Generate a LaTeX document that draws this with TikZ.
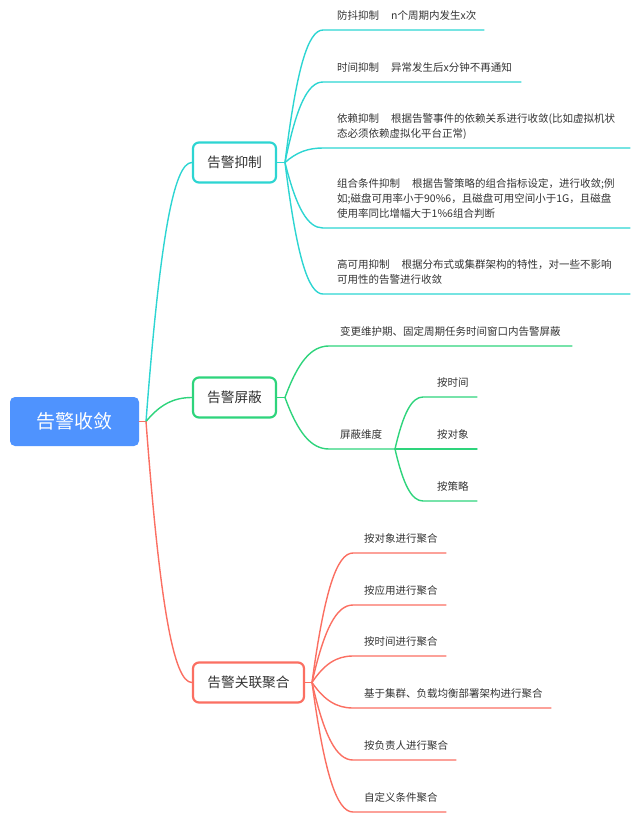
\documentclass[tikz,border=0pt]{standalone}
\usepackage{fontspec}
\setmainfont{Noto Sans CJK SC}
\usetikzlibrary{calc}
\definecolor{tealc}{HTML}{2DD5D2}
\definecolor{greenc}{HTML}{2ED47C}
\definecolor{redc}{HTML}{FB6F62}
\definecolor{bluec}{HTML}{4F93FE}
\definecolor{txtc}{HTML}{333333}
\newcommand{\mlines}[1]{\begin{tabular}[b]{@{}l@{}}#1\end{tabular}}
\begin{document}
\begin{tikzpicture}[x=1pt,y=-1pt,
  leaf/.style={anchor=base west, inner sep=0pt, font=\fontsize{10.5}{15}\selectfont, text=txtc},
  topic/.style={draw, line width=2.2pt, rounded corners=6pt, fill=white, minimum height=40pt, inner sep=0pt, font=\fontsize{13.7}{16}\selectfont, text=txtc},
  conn/.style={line width=1.4pt, line cap=round},
  mm/.style={to path={let \p1=(\tikztostart), \p2=(\tikztotarget) in .. controls ({\x1+0.3*(\x2-\x1)},{\y2+0.3*(\y1-\y2)}) and ({\x1+0.6*(\x2-\x1)},\y2) .. (\tikztotarget)}}
]
\useasboundingbox (0,0) rectangle (638,827);

% ---------- nodes ----------
\node[fill=bluec, rounded corners=5pt, minimum width=129pt, minimum height=49pt, inner sep=0pt, text=white, font=\fontsize{19}{22}\selectfont] (root) at (74.5,421.5) {告警收敛};
\node[topic, draw=tealc, minimum width=83pt] (b1) at (234.5,162.5) {告警抑制};
\node[topic, draw=greenc, minimum width=83pt] (b2) at (234.5,397.5) {告警屏蔽};
\node[topic, draw=redc, minimum width=111pt] (b3) at (248.5,682.5) {告警关联聚合};

% ---------- coordinates ----------
\coordinate (r0) at (146,421.5);
\coordinate (s1) at (285,162.5);
\coordinate (s2) at (285,397.5);
\coordinate (s3) at (312,682.5);

\coordinate (t1s) at (323,30);  \coordinate (t1e) at (484,30);
\coordinate (t2s) at (323,82);  \coordinate (t2e) at (521,82);
\coordinate (t3s) at (323,148); \coordinate (t3e) at (630,148);
\coordinate (t4s) at (323,228); \coordinate (t4e) at (630,228);
\coordinate (t5s) at (323,294); \coordinate (t5e) at (630,294);

\coordinate (g1s) at (329,346); \coordinate (g1e) at (572,346);
\coordinate (g2s) at (329,449); \coordinate (gj) at (395,449);
\coordinate (g21s) at (423,397); \coordinate (g21e) at (477,397);
\coordinate (g22e) at (477,449);
\coordinate (g23s) at (423,501); \coordinate (g23e) at (477,501);

\coordinate (r1s) at (353,553); \coordinate (r1e) at (446,553);
\coordinate (r2s) at (353,605); \coordinate (r2e) at (446,605);
\coordinate (r3s) at (353,656); \coordinate (r3e) at (446,656);
\coordinate (r4s) at (353,708); \coordinate (r4e) at (551,708);
\coordinate (r5s) at (353,760); \coordinate (r5e) at (456,760);
\coordinate (r6s) at (353,812); \coordinate (r6e) at (446,812);

% ---------- leaf texts ----------
\node[leaf] (t1) at (337,19.5) {防抖抑制\hspace{12pt}n个周期内发生x次};
\node[leaf] (t2) at (337,71.5) {时间抑制\hspace{12pt}异常发生后x分钟不再通知};
\node[leaf] (t3) at (337,137.5) {\mlines{依赖抑制\hspace{12pt}根据告警事件的依赖关系进行收敛(比如虚拟机状\\态必须依赖虚拟化平台正常)}};
\node[leaf] (t4) at (337,217.5) {\mlines{组合条件抑制\hspace{12pt}根据告警策略的组合指标设定，进行收敛;例\\如;磁盘可用率小于90\%6，且磁盘可用空间小于1G，且磁盘\\使用率同比增幅大于1\%6组合判断}};
\node[leaf] (t5) at (337,283.5) {\mlines{高可用抑制\hspace{12pt}根据分布式或集群架构的特性，对一些不影响\\可用性的告警进行收敛}};

\node[leaf] (g1) at (340,335.5) {变更维护期、固定周期任务时间窗口内告警屏蔽};
\node[leaf] (g2) at (340,438.5) {屏蔽维度};
\node[leaf] (g21) at (437,386.5) {按时间};
\node[leaf] (g22) at (437,438.5) {按对象};
\node[leaf] (g23) at (437,490.5) {按策略};

\node[leaf] (r1) at (364,542.5) {按对象进行聚合};
\node[leaf] (r2) at (364,594.5) {按应用进行聚合};
\node[leaf] (r3) at (364,645.5) {按时间进行聚合};
\node[leaf] (r4) at (364,697.5) {基于集群、负载均衡部署架构进行聚合};
\node[leaf] (r5) at (364,749.5) {按负责人进行聚合};
\node[leaf] (r6) at (364,801.5) {自定义条件聚合};

% ---------- connectors ----------
\draw[conn, redc] (root.east) -- (r0);
\draw[conn, tealc] (r0) to[mm] (b1.west);
\draw[conn, greenc] (r0) to[mm] (b2.west);
\draw[conn, redc] (r0) to[mm] (b3.west);

\draw[conn, tealc] (b1.east) -- (s1);
\draw[conn, tealc] (s1) to[mm] (t1s) -- (t1e);
\draw[conn, tealc] (s1) to[mm] (t2s) -- (t2e);
\draw[conn, tealc] (s1) to[mm] (t3s) -- (t3e);
\draw[conn, tealc] (s1) to[mm] (t4s) -- (t4e);
\draw[conn, tealc] (s1) to[mm] (t5s) -- (t5e);

\draw[conn, greenc] (b2.east) -- (s2);
\draw[conn, greenc] (s2) to[mm] (g1s) -- (g1e);
\draw[conn, greenc] (s2) to[mm] (g2s) -- (gj);
\draw[conn, greenc] (gj) to[mm] (g21s) -- (g21e);
\draw[conn, greenc] (gj) -- (g22e);
\draw[conn, greenc] (gj) to[mm] (g23s) -- (g23e);

\draw[conn, redc] (b3.east) -- (s3);
\draw[conn, redc] (s3) to[mm] (r1s) -- (r1e);
\draw[conn, redc] (s3) to[mm] (r2s) -- (r2e);
\draw[conn, redc] (s3) to[mm] (r3s) -- (r3e);
\draw[conn, redc] (s3) to[mm] (r4s) -- (r4e);
\draw[conn, redc] (s3) to[mm] (r5s) -- (r5e);
\draw[conn, redc] (s3) to[mm] (r6s) -- (r6e);
\end{tikzpicture}
\end{document}
